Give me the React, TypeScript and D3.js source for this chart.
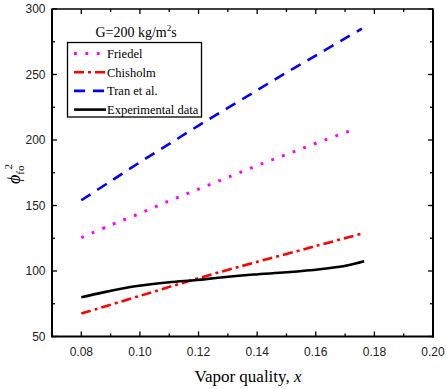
import React from "react";
import * as d3 from "d3";

const friedelX = [0.08, 0.09, 0.10, 0.11, 0.12, 0.13, 0.14, 0.15, 0.16, 0.173];
const friedelY = [125.5, 135, 144, 153.5, 162.5, 171.5, 180.5, 189, 197.5, 208];
const chisholmX = [0.08, 0.10, 0.12, 0.14, 0.16, 0.1765];
const chisholmY = [67.5, 81, 94.5, 107, 119, 129];
const tranX = [0.08, 0.09, 0.10, 0.11, 0.12, 0.13, 0.14, 0.15, 0.16, 0.17, 0.1757];
const tranY = [154, 168.5, 183, 197, 211, 224.5, 238, 251.5, 264.5, 277.5, 285];
const expX = [0.08, 0.0875, 0.099, 0.110, 0.1194, 0.1267, 0.1387, 0.150, 0.1614, 0.1706, 0.1765];
const expY = [79.9, 83.7, 88.5, 91.4, 93.1, 94.9, 97.3, 99.0, 101.3, 104.2, 107.4];

const xTicks = [0.08, 0.10, 0.12, 0.14, 0.16, 0.18, 0.20];
const yTicks = [50, 100, 150, 200, 250, 300];
const legendLabels = ["Friedel", "Chisholm", "Tran et al.", "Experimental data"];

const W = 446, H = 389;
const L = 52, R = 433, T = 9, B = 336.5;
const SERIF = "'Liberation Serif', Tinos, 'Times New Roman', Times, serif";
const SANS = "'Liberation Sans', Arial, sans-serif";

export default function App() {
  const x = d3.scaleLinear().domain([0.07, 0.20]).range([L, R]);
  const y = d3.scaleLinear().domain([50, 300]).range([B, T]);
  const line = d3.line<[number, number]>().x(d => x(d[0])).y(d => y(d[1])).curve(d3.curveCatmullRom.alpha(0.5));
  const mk = (xs: number[], ys: number[]) => line(xs.map((v, i) => [v, ys[i]] as [number, number])) || "";

  const series = [
    { d: mk(friedelX, friedelY), color: "#ff00ff", dash: "2.8 8.6", w: 3 },
    { d: mk(chisholmX, chisholmY), color: "#ff0000", dash: "10 4 3 4", w: 2.6 },
    { d: mk(tranX, tranY), color: "#0000ff", dash: "11 8", w: 2.6 },
    { d: mk(expX, expY), color: "#000000", dash: undefined as string | undefined, w: 2.6 },
  ];

  const xMinor = d3.range(0.07, 0.2001, 0.01).map(v => +v.toFixed(2));
  const yMinor = d3.range(50, 301, 25);
  const isMajorX = (v: number) => Math.abs(Math.round(v * 100) % 2) === 0;
  const serifStyle = { fontFamily: SERIF };

  return (
    <svg width={W} height={H} style={{ position: "absolute", left: 0, top: 0 }}>
      <rect width={W} height={H} fill="#fff" />
      {series.map((s, i) => (
        <path key={i} d={s.d} fill="none" stroke={s.color} strokeWidth={s.w} strokeDasharray={s.dash} />
      ))}
      {xMinor.map((v, i) => {
        const len = isMajorX(v) ? 5 : 3;
        return (
          <g key={"xt" + i} stroke="#000" strokeWidth={1.3}>
            <line x1={x(v)} x2={x(v)} y1={B} y2={B - len} />
            <line x1={x(v)} x2={x(v)} y1={T} y2={T + len} />
          </g>
        );
      })}
      {yMinor.map((v, i) => {
        const len = v % 50 === 0 ? 5 : 3;
        return (
          <g key={"yt" + i} stroke="#000" strokeWidth={1.3}>
            <line x1={L} x2={L + len} y1={y(v)} y2={y(v)} />
            <line x1={R} x2={R - len} y1={y(v)} y2={y(v)} />
          </g>
        );
      })}
      <line x1={L} x2={R} y1={T} y2={T} stroke="#000" strokeWidth={1.3} />
      <line x1={L} x2={R + 1} y1={B} y2={B} stroke="#000" strokeWidth={2} />
      <line x1={L} x2={L} y1={T - 0.6} y2={B + 1} stroke="#000" strokeWidth={2} />
      <line x1={R} x2={R} y1={T - 0.6} y2={B + 1} stroke="#000" strokeWidth={2} />
      {xTicks.map((v, i) => (
        <text key={"xl" + i} x={x(v)} y={355.5} textAnchor="middle" style={{ fontFamily: SANS }} fontSize={12} fill="#222">
          {v.toFixed(2)}
        </text>
      ))}
      {yTicks.map((v, i) => (
        <text key={"yl" + i} x={45.5} y={y(v) + 4.3} textAnchor="end" style={{ fontFamily: SANS }} fontSize={12} fill="#222">
          {v}
        </text>
      ))}
      <text x={248} y={381.5} textAnchor="middle" style={serifStyle} fontSize={17} fill="#000">
        Vapor quality, <tspan fontStyle="italic">x</tspan>
      </text>
      <text transform="translate(20,184) rotate(-90)" style={serifStyle} fill="#000">
        <tspan fontStyle="italic" fontSize={18}>ϕ</tspan>
        <tspan fontSize={11} dy={4}>fo</tspan>
        <tspan fontSize={11} dx={-4} dy={-12}>2</tspan>
      </text>
      <text x={136} y={36.5} textAnchor="middle" style={serifStyle} fontSize={14} fill="#000">
        G=200 kg/m<tspan fontSize={9} dy={-6}>2</tspan><tspan dy={6}>s</tspan>
      </text>
      <rect x={67.5} y={42.5} width={134} height={74.5} fill="none" stroke="#000" strokeWidth={1.3} />
      {legendLabels.map((lab, i) => {
        const cy = 53.5 + i * 18.7;
        const s = series[i];
        return (
          <g key={"lg" + i}>
            <line x1={74} x2={106} y1={cy} y2={cy} stroke={s.color} strokeWidth={s.w} strokeDasharray={s.dash} />
            <text x={107} y={cy + 4.5} style={serifStyle} fontSize={12.5} fill="#000">
              {lab}
            </text>
          </g>
        );
      })}
    </svg>
  );
}
